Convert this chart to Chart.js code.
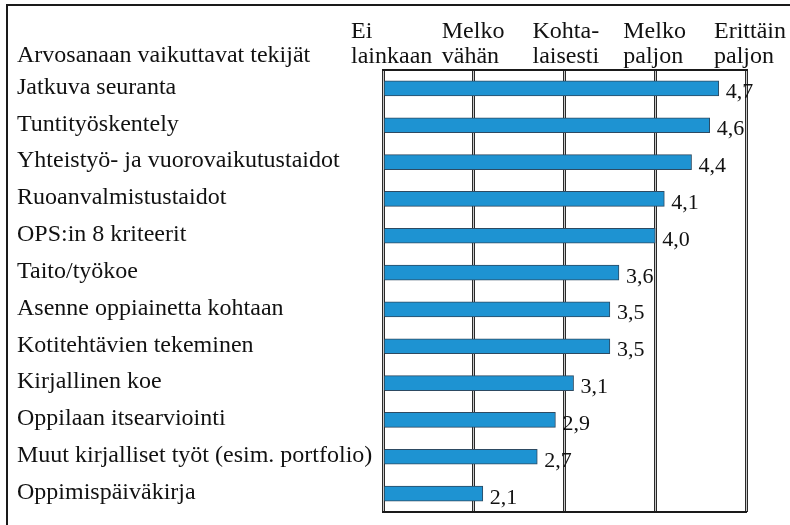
<!DOCTYPE html>
<html>
<head>
<meta charset="utf-8">
<script src="https://cdn.jsdelivr.net/npm/chart.js@4/dist/chart.umd.min.js"></script>
<style>
  html, body { margin: 0; padding: 0; background: #fff; }
  #kehys { position: relative; width: 790px; height: 525px; overflow: hidden; }
  #reuna { position: absolute; left: 6px; top: 4px; right: -4px; bottom: -4px;
           border-left: 2px solid #1a1a1a; border-top: 2px solid #1a1a1a; pointer-events: none; }
  canvas { position: absolute; left: 0; top: 0; }
</style>
</head>
<body>
<div id="kehys">
  <canvas id="grafiikka" width="790" height="525"></canvas>
  <div id="reuna"></div>
</div>
<script>
const otsikko = "Arvosanaan vaikuttavat tekijät";
const tekijat = [
  "Jatkuva seuranta",
  "Tuntityöskentely",
  "Yhteistyö- ja vuorovaikutustaidot",
  "Ruoanvalmistustaidot",
  "OPS:in 8 kriteerit",
  "Taito/työkoe",
  "Asenne oppiainetta kohtaan",
  "Kotitehtävien tekeminen",
  "Kirjallinen koe",
  "Oppilaan itsearviointi",
  "Muut kirjalliset työt (esim. portfolio)",
  "Oppimispäiväkirja"
];
const keskiarvot = [4.7, 4.6, 4.4, 4.1, 4.0, 3.6, 3.5, 3.5, 3.1, 2.9, 2.7, 2.1];
const asteikko = [
  ["Ei", "lainkaan"],
  ["Melko", "vähän"],
  ["Kohta-", "laisesti"],
  ["Melko", "paljon"],
  ["Erittäin", "paljon"]
];

const fontti = "'Liberation Serif', 'Times New Roman', serif";
Chart.defaults.font.family = fontti;
Chart.defaults.color = "#111";

// otsikko vasempaan yläkulmaan, samalle riville asteikon alarivin kanssa
const otsikkoTeksti = {
  id: "otsikkoTeksti",
  afterDraw(chart) {
    const ctx = chart.ctx;
    ctx.save();
    ctx.font = "24px " + fontti;
    ctx.fillStyle = "#111";
    ctx.textAlign = "left";
    ctx.textBaseline = "alphabetic";
    ctx.fillText(otsikko, 17, 62);
    ctx.restore();
  }
};

// arvot pylväiden perään, desimaalipilkulla
const arvoTekstit = {
  id: "arvoTekstit",
  afterDatasetsDraw(chart) {
    const ctx = chart.ctx;
    const meta = chart.getDatasetMeta(0);
    ctx.save();
    ctx.font = "22px " + fontti;
    ctx.fillStyle = "#111";
    ctx.textAlign = "left";
    ctx.textBaseline = "alphabetic";
    meta.data.forEach((pylvas, i) => {
      ctx.fillText(keskiarvot[i].toFixed(1).replace(".", ","), pylvas.x + 7, pylvas.y + 10);
    });
    ctx.restore();
  }
};

new Chart(document.getElementById("grafiikka"), {
  type: "bar",
  data: {
    labels: tekijat,
    datasets: [{
      data: keskiarvot,
      base: 1,
      backgroundColor: "#1e93d2",
      borderColor: "#2d4a62",
      borderWidth: 1,
      barThickness: 15
    }]
  },
  options: {
    indexAxis: "y",
    responsive: false,
    animation: false,
    layout: { padding: { left: 17, right: 44, top: 0, bottom: 0 } },
    plugins: {
      legend: { display: false },
      tooltip: { enabled: false }
    },
    scales: {
      x: {
        position: "top",
        min: 1,
        max: 5,
        grid: { color: "#2a2a2a", lineWidth: 3, drawTicks: false },
        border: { display: true, color: "#1a1a1a", width: 2 },
        ticks: {
          stepSize: 1,
          align: "start",
          labelOffset: -32,
          padding: 1,
          maxRotation: 0,
          font: { family: fontti, size: 24, lineHeight: 25 / 24 },
          callback: (v) => asteikko[Math.round(v) - 1]
        },
        afterFit(s) { s.height = 70; s.paddingLeft = 0; s.paddingRight = 0; }
      },
      x2: {
        position: "bottom",
        min: 1,
        max: 5,
        grid: { color: "#c8c8c8", lineWidth: 1, drawTicks: false },
        border: { display: true, color: "#1a1a1a", width: 2 },
        ticks: { stepSize: 1, display: false },
        afterFit(s) { s.height = 13; s.paddingLeft = 0; s.paddingRight = 0; }
      },
      y: {
        grid: { display: false },
        border: { display: false },
        ticks: {
          crossAlign: "far",
          labelOffset: -1,
          font: { family: fontti, size: 24 }
        },
        afterFit(s) { s.width = 366; s.paddingTop = 0; s.paddingBottom = 0; }
      }
    }
  },
  plugins: [otsikkoTeksti, arvoTekstit]
});
</script>
</body>
</html>
